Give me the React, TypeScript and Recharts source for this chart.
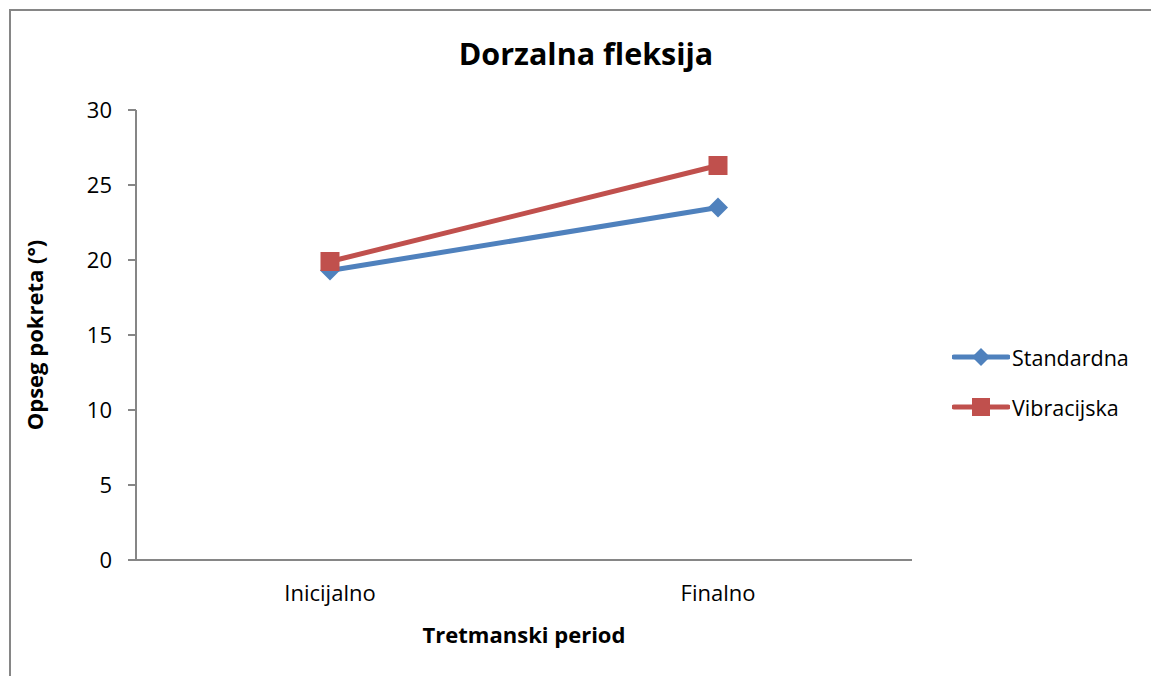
import { LineChart, Line, XAxis, YAxis } from 'recharts'

const categories = ['Inicijalno', 'Finalno']
const standardna = [19.3, 23.5]
const vibracijska = [19.9, 26.3]
const yTicks = [0, 5, 10, 15, 20, 25, 30]

const data = categories.map((period, i) => ({
  period,
  standardna: standardna[i],
  vibracijska: vibracijska[i],
}))

const BLUE = '#4F81BD'
const RED = '#C0504D'
const AXIS = '#868686'
const FONT = '"Open Sans", sans-serif'

function Diamond(props: any) {
  const { cx, cy } = props
  if (cx == null || cy == null) return null
  const r = 10
  return (
    <polygon
      points={`${cx},${cy - r} ${cx + r},${cy} ${cx},${cy + r} ${cx - r},${cy}`}
      fill={BLUE}
    />
  )
}

function Square(props: any) {
  const { cx, cy } = props
  if (cx == null || cy == null) return null
  const s = 19
  return <rect x={cx - s / 2} y={cy - s / 2} width={s} height={s} fill={RED} />
}

function LegendBox() {
  const items = [
    { name: 'Standardna', color: BLUE, marker: 'diamond' },
    { name: 'Vibracijska', color: RED, marker: 'square' },
  ]
  return (
    <div style={{ position: 'absolute', left: 952, top: 332 }}>
      {items.map((it) => (
        <div key={it.name} style={{ display: 'flex', alignItems: 'center', height: 50 }}>
          <svg width={58} height={24}>
            <line x1={2} y1={12} x2={56} y2={12} stroke={it.color} strokeWidth={5} strokeLinecap="round" />
            {it.marker === 'diamond' ? (
              <polygon points="29,3 38,12 29,21 20,12" fill={it.color} />
            ) : (
              <rect x={20} y={3} width={18} height={18} fill={it.color} />
            )}
          </svg>
          <span style={{ fontFamily: FONT, fontSize: 21.5, color: '#000', marginLeft: 2 }}>{it.name}</span>
        </div>
      ))}
    </div>
  )
}

export default function App() {
  return (
    <div
      style={{
        position: 'absolute',
        left: 0,
        top: 0,
        width: 1151,
        height: 676,
        overflow: 'hidden',
        background: '#fff',
      }}
    >
      <div
        style={{
          position: 'absolute',
          left: 9,
          top: 9,
          width: 1300,
          height: 800,
          borderLeft: `2px solid ${AXIS}`,
          borderTop: `2px solid ${AXIS}`,
        }}
      />
      <div
        style={{
          position: 'absolute',
          left: 0,
          top: 32,
          width: 1172,
          textAlign: 'center',
          fontFamily: FONT,
          fontWeight: 700,
          fontSize: 30.5,
          color: '#000',
        }}
      >
        Dorzalna fleksija
      </div>
      <div style={{ position: 'absolute', left: 0, top: 0 }}>
        <LineChart
          width={1151}
          height={676}
          data={data}
          margin={{ top: 110, right: 239, bottom: 56, left: 0 }}
        >
          <XAxis
            dataKey="period"
            padding={{ left: 194, right: 194 }}
            axisLine={{ stroke: AXIS, strokeWidth: 2 }}
            tickLine={false}
            tickSize={0}
            tickMargin={25}
            height={60}
            tick={{ fill: '#000', fontSize: 22, fontFamily: FONT }}
            label={{
              value: 'Tretmanski period',
              position: 'bottom',
              offset: 7,
              style: { fill: '#000', fontSize: 22, fontWeight: 700, fontFamily: FONT },
            }}
          />
          <YAxis
            domain={[0, 30]}
            ticks={yTicks}
            width={136}
            axisLine={{ stroke: AXIS, strokeWidth: 2 }}
            tickLine={{ stroke: AXIS, strokeWidth: 2 }}
            tickSize={8}
            tickMargin={16}
            tick={{ fill: '#000', fontSize: 22, fontFamily: FONT }}
            label={{
              value: 'Opseg pokreta (°)',
              angle: -90,
              position: 'insideLeft',
              offset: 35,
              style: { textAnchor: 'middle', fill: '#000', fontSize: 22, fontWeight: 700, fontFamily: FONT },
            }}
          />
          <Line
            dataKey="standardna"
            name="Standardna"
            stroke={BLUE}
            strokeWidth={5}
            dot={<Diamond />}
            activeDot={false}
            isAnimationActive={false}
          />
          <Line
            dataKey="vibracijska"
            name="Vibracijska"
            stroke={RED}
            strokeWidth={5}
            dot={<Square />}
            activeDot={false}
            isAnimationActive={false}
          />
        </LineChart>
      </div>
      <LegendBox />
    </div>
  )
}
